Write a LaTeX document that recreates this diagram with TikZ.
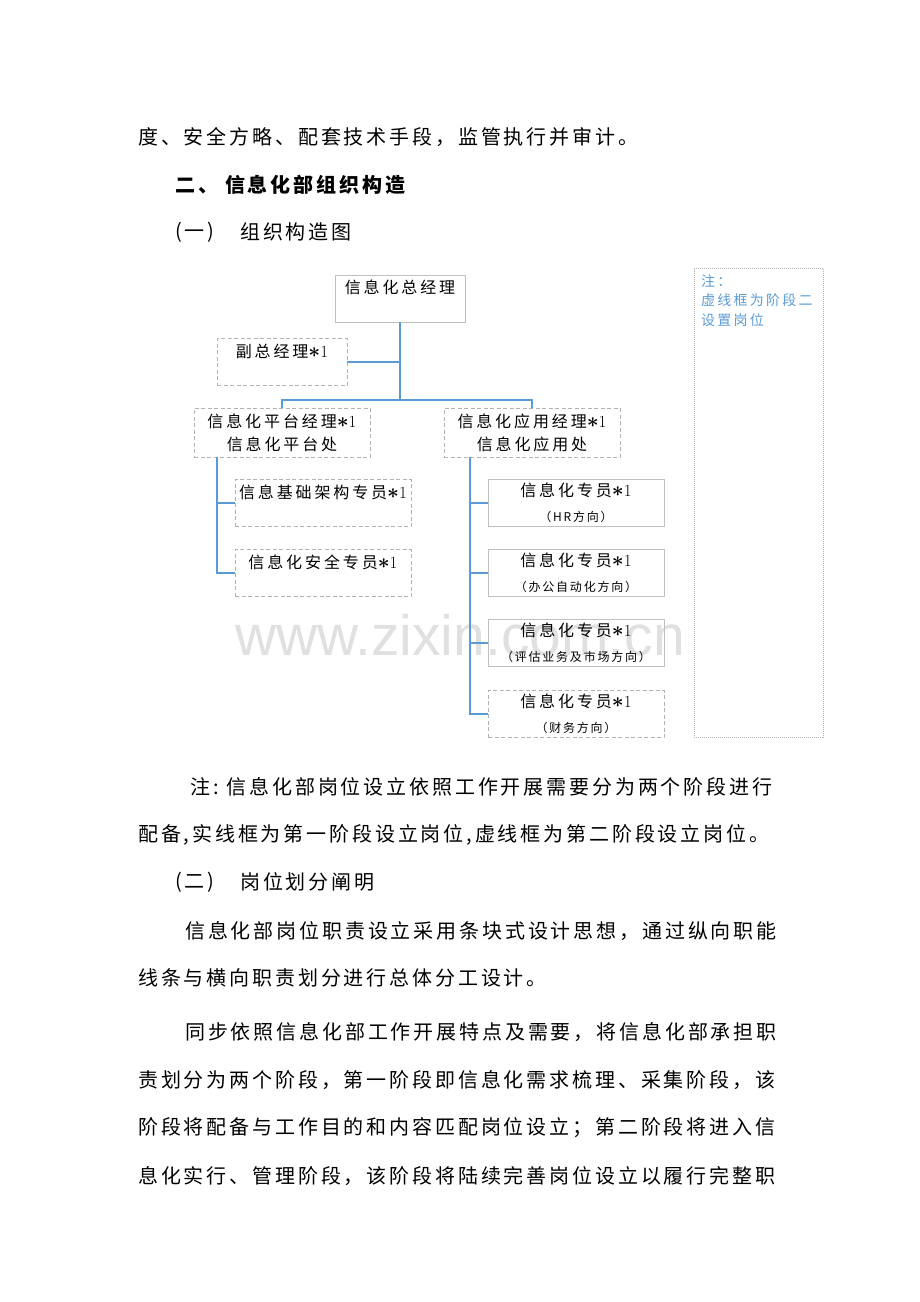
\documentclass[tikz,border=0pt]{standalone}
\usepackage{amsmath}
\usepackage{fontspec}
\setsansfont{Liberation Sans}
\newfontfamily\cjk[LetterSpace=14.3]{Noto Sans CJK SC}
\newfontfamily\cjkchart[LetterSpace=18]{Noto Sans CJK SC}
\newfontfamily\cjksmall[LetterSpace=15]{Noto Sans CJK SC}
\newfontfamily\cjknote[LetterSpace=16]{Noto Sans CJK SC}

\definecolor{linkblue}{RGB}{91,155,213}
\definecolor{boxgray}{RGB}{192,192,192}
\definecolor{dashgray}{RGB}{178,178,178}

\newcommand\starone{{\normalfont\fontsize{21}{23}\selectfont$\boldsymbol{\ast}$\fontsize{17}{23}\selectfont1}}
\newcommand\sub[1]{{\fontsize{12}{14}\cjksmall #1}}

\tikzset{
	orgpicture/.style = {
		x = 1pt,
		y = -1pt,
		line/.style = {
			anchor = west,
			inner sep = 0pt,
			font = \fontsize{20}{24}\cjk
		},
		heading/.style = {
			line,
			font = \fontsize{20}{24}\cjk\bfseries
		},
		link/.style = {
			draw = linkblue,
			line width = 1.3pt
		}
	},
	post/.style = {
		draw = boxgray,
		line width = 0.8pt,
		align = center,
		inner sep = 0pt,
		minimum width = 176pt,
		minimum height = 47pt,
		font = \fontsize{16}{23}\cjkchart
	},
	post2/.style = {
		post,
		draw = dashgray,
		dash pattern = on 4pt off 2.5pt
	},
	notebox/.style = {
		draw = dashgray,
		line width = 0.7pt,
		dash pattern = on 1pt off 1pt,
		minimum width = 129pt,
		minimum height = 469pt
	},
	notetext/.style = {
		anchor = north west,
		align = left,
		inner sep = 0pt,
		text = linkblue,
		font = \fontsize{14}{19.5}\cjknote
	}
}

\begin{document}
\begin{tikzpicture}[orgpicture]
	\useasboundingbox (0,0) rectangle (920,1302);

	\node[font = \sffamily\fontsize{57}{60}\selectfont, text = black!12] (mark) at (460,635) {www.zixin.com.cn};

	% text above the chart
	\node[line] (l1) at (138,137) {度、安全方略、配套技术手段，监管执行并审计。};
	\node[heading] (h2) at (175,185) {二、\hspace{7pt}信息化部组织构造};
	\node[line] (h21) at (175,232) {(一)};
	\node[line] (h21t) at (240,232) {组织构造图};

	% chart
	\node[post, minimum width = 130pt] (gm) at (400,298.5) {信息化总经理\\ \mbox{}};
	\node[post2, minimum width = 130pt] (vice) at (282,362) {副总经理\starone\\ \mbox{}};

	\node[post2, minimum height = 49pt] (plat) at (282,432.5) {信息化平台经理\starone\\信息化平台处};
	\node[post2, minimum height = 49pt] (app) at (532,432.5) {信息化应用经理\starone\\信息化应用处};

	\node[post2] (infra) at (323,503) {信息基础架构专员\starone\\ \mbox{}};
	\node[post2] (sec) at (323,573) {信息化安全专员\starone\\ \mbox{}};

	\node[post] (hr) at (576,503) {信息化专员\starone\\[2pt]\sub{（HR方向）}};
	\node[post] (oa) at (576,573) {信息化专员\starone\\[2pt]\sub{（办公自动化方向）}};
	\node[post] (mkt) at (576,643) {信息化专员\starone\\[2pt]\sub{（评估业务及市场方向）}};
	\node[post2] (fin) at (576,714) {信息化专员\starone\\[2pt]\sub{（财务方向）}};

	\node[notebox] (note) at (758.5,502.5) {};
	\node[notetext] (notet) at (701,274) {注：\\虚线框为阶段二\\设置岗位};

	\coordinate (bus) at (400,400);
	\coordinate (platstem) at (217,457);
	\coordinate (appstem) at (470,457);

	\begin{scope}[every path/.style = link]
		\path (gm) -- (bus);
		\path (vice.east) -- (vice.east -| bus);
		\path (plat.north) |- (bus) -| (app.north);

		\path (platstem) |- (infra.west);
		\path (platstem) |- (sec.west);

		\path (appstem) |- (hr.west);
		\path (appstem) |- (oa.west);
		\path (appstem) |- (mkt.west);
		\path (appstem) |- (fin.west);
	\end{scope}

	% text below the chart
	\node[line] (l4) at (190,787) {注:\hspace{8pt}信息化部岗位设立依照工作开展需要分为两个阶段进行};
	\node[line] (l5) at (138,835) {配备,实线框为第一阶段设立岗位,虚线框为第二阶段设立岗位。};
	\node[line] (h22) at (175,882) {(二)};
	\node[line] (h22t) at (240,882) {岗位划分阐明};
	\node[line] (l7) at (185,931) {信息化部岗位职责设立采用条块式设计思想，通过纵向职能};
	\node[line] (l8) at (138,978) {线条与横向职责划分进行总体分工设计。};
	\node[line] (l9) at (185,1032) {同步依照信息化部工作开展特点及需要，将信息化部承担职};
	\node[line] (l10) at (138,1080) {责划分为两个阶段，第一阶段即信息化需求梳理、采集阶段，该};
	\node[line] (l11) at (138,1128) {阶段将配备与工作目的和内容匹配岗位设立；第二阶段将进入信};
	\node[line] (l12) at (138,1176) {息化实行、管理阶段，该阶段将陆续完善岗位设立以履行完整职};
\end{tikzpicture}
\end{document}
